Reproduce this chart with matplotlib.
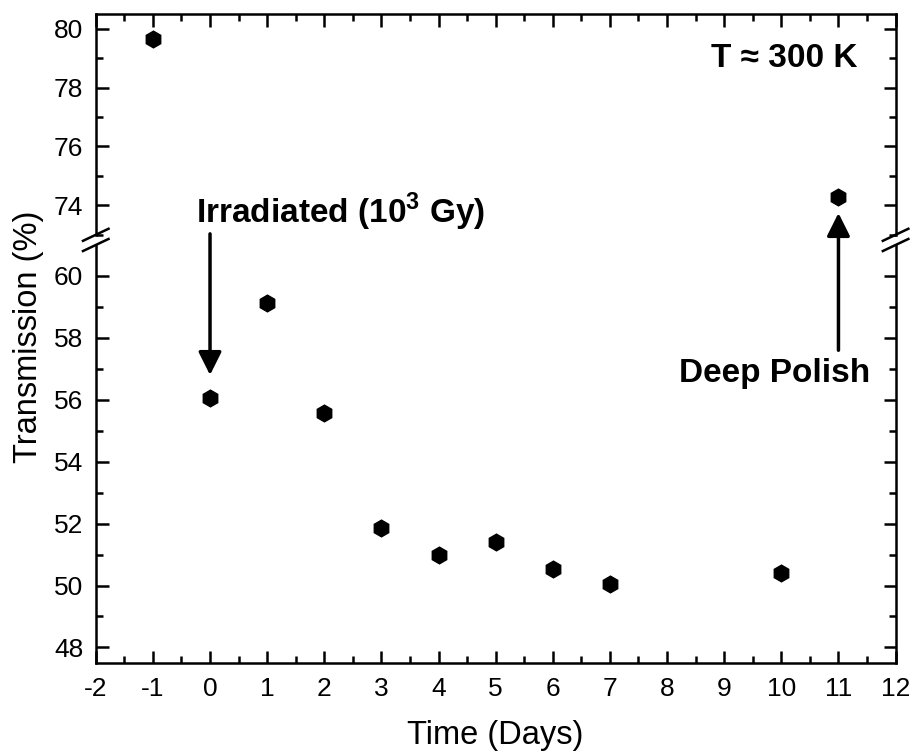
import matplotlib
matplotlib.use("Agg")
import matplotlib.pyplot as plt

# data
days = [-1, 0, 1, 2, 3, 4, 5, 6, 7, 10, 11]
transmission = [79.66, 56.07, 59.12, 55.58, 51.85, 50.97, 51.40, 50.52, 50.06, 50.39, 74.29]

upper_ticks = [74, 76, 78, 80]
lower_ticks = [48, 50, 52, 54, 56, 58, 60]
x_ticks = [-2, -1, 0, 1, 2, 3, 4, 5, 6, 7, 8, 9, 10, 11, 12]

plt.rcParams['font.family'] = ['Liberation Sans', 'DejaVu Sans']
plt.rcParams['mathtext.fontset'] = 'custom'
plt.rcParams['mathtext.rm'] = 'Liberation Sans'
plt.rcParams['mathtext.bf'] = 'Liberation Sans:bold'
plt.rcParams['axes.unicode_minus'] = False

fig = plt.figure(figsize=(9.12, 7.55), dpi=100)
ax_up = fig.add_axes([0.105, 0.689, 0.877, 0.2925])
ax_low = fig.add_axes([0.105, 0.122, 0.877, 0.5535])

for ax in (ax_up, ax_low):
    ax.set_facecolor('none')
    ax.set_xlim(-2, 12)
    ax.set_xticks(x_ticks)
    ax.set_xticks([v + 0.5 for v in x_ticks[:-1]], minor=True)
    ax.tick_params(which='both', direction='in', top=True, right=True,
                   width=1.8, labelsize=19)
    ax.tick_params(which='major', length=9)
    ax.tick_params(which='minor', length=5)
    ax.tick_params(axis='y', pad=9)
    for s in ax.spines.values():
        s.set_linewidth(1.8)

# points in the upper part go to the upper axes, others below
up_x = [d for d, t in zip(days, transmission) if t > 70]
up_y = [t for t in transmission if t > 70]
low_x = [d for d, t in zip(days, transmission) if t <= 70]
low_y = [t for t in transmission if t <= 70]

ax_up.plot(up_x, up_y, 'h', color='black', markersize=12, clip_on=False)
ax_low.plot(low_x, low_y, 'h', color='black', markersize=12, clip_on=False)

ax_up.set_ylim(73, 80.5)
ax_up.set_yticks(upper_ticks)
ax_up.set_yticks([73, 75, 77, 79], minor=True)
ax_up.spines['bottom'].set_visible(False)
ax_up.tick_params(which='both', bottom=False, labelbottom=False)

ax_low.set_ylim(47.5, 61)
ax_low.set_yticks(lower_ticks)
ax_low.set_yticks([49, 51, 53, 55, 57, 59], minor=True)
ax_low.spines['top'].set_visible(False)
ax_low.tick_params(which='both', top=False)
ax_low.tick_params(axis='x', pad=10)

# break marks on both sides
for xf in (0.105, 0.982):
    for yf in (0.689, 0.6755):
        fig.add_artist(plt.Line2D([xf - 0.014, xf + 0.014], [yf - 0.008, yf + 0.008],
                                  color='black', lw=1.8))

ax_low.set_xlabel('Time (Days)', fontsize=23.5, labelpad=14)
fig.text(0.031, 0.554, 'Transmission (%)', fontsize=23.5, rotation=90,
         ha='center', va='center')

ax_up.text(0.9525, 0.80, 'T ≈ 300 K', transform=ax_up.transAxes, fontsize=24,
           fontweight='bold', ha='right', va='center')

arrow = dict(arrowstyle='-|>,head_width=0.7,head_length=1.4', color='black',
             lw=2.5, shrinkA=0, shrinkB=0)

fig.text(0.373, 0.719, 'Irradiated (10$^\\mathbf{3}$ Gy)', fontsize=24,
         fontweight='bold', ha='center', va='center')
fig.add_artist(plt.Annotation('', xy=(0, 56.8), xycoords=ax_low.transData,
                              xytext=(0, 61.36), textcoords=ax_low.transData,
                              arrowprops=arrow))

fig.text(0.849, 0.505, 'Deep Polish', fontsize=24, fontweight='bold',
         ha='center', va='center')
fig.add_artist(plt.Annotation('', xy=(11, 73.74), xycoords=ax_up.transData,
                              xytext=(11, 57.6), textcoords=ax_low.transData,
                              arrowprops=arrow))

fig.savefig('out.png', dpi=100)
